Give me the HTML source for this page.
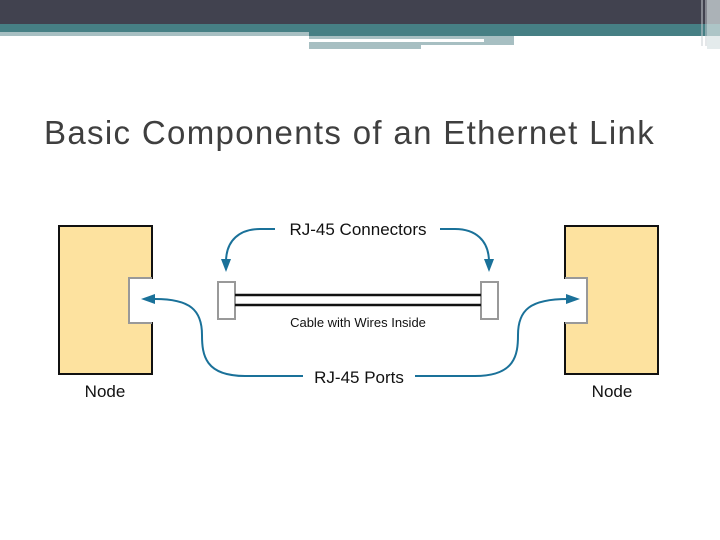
<!DOCTYPE html>
<html><head><meta charset="utf-8"><style>
html,body{margin:0;padding:0;background:#fff;}
body{width:720px;height:540px;overflow:hidden;position:relative;font-family:"Liberation Sans",sans-serif;}
</style></head><body>
<svg width="720" height="540" viewBox="0 0 720 540" xmlns="http://www.w3.org/2000/svg" style="position:absolute;left:0;top:0">
<rect x="0" y="0" width="720" height="24" fill="#41424f"/>
<rect x="0" y="24" width="720" height="8" fill="#467f84"/>
<rect x="0" y="32" width="309" height="4" fill="#a7bfc2"/>
<rect x="309" y="32" width="411" height="4" fill="#467f84"/>
<rect x="309" y="36" width="175" height="3" fill="#a7bfc2"/>
<rect x="309" y="42" width="112" height="7" fill="#a7bfc2"/>
<rect x="421" y="42" width="92" height="3" fill="#a7bfc2"/>
<rect x="484" y="36" width="30" height="9" fill="#a7bfc2"/>
<rect x="707" y="0" width="13" height="49" fill="#d8e2e4" opacity="0.7"/>
<line x1="702" y1="0" x2="702" y2="46" stroke="#c9cfd3" stroke-width="1"/>
<line x1="706" y1="0" x2="706" y2="46" stroke="#c9cfd3" stroke-width="1"/>
<text x="44" y="144" font-family="Liberation Sans, sans-serif" font-size="33" fill="#3f3f3f" letter-spacing="1.33">Basic Components of an Ethernet Link</text>

<g stroke="#111" stroke-width="2" fill="#fde29f">
<path d="M59 226 H152 V278 H129 V323 H152 V374 H59 Z"/>
<path d="M658 226 H565 V278 H587 V323 H565 V374 H658 Z"/>
</g>
<g stroke="#999" stroke-width="2" fill="#fff">
<rect x="129" y="278" width="22" height="45" stroke="none"/>
<path d="M152 278 H129 V323 H152" fill="none"/>
<rect x="566" y="278" width="21" height="45" stroke="none"/>
<path d="M565 278 H587 V323 H565" fill="none"/>
<rect x="218" y="282" width="17" height="37"/>
<rect x="481" y="282" width="17" height="37"/>
</g>
<g stroke="#111" stroke-width="2.5">
<line x1="235" y1="295" x2="481" y2="295"/>
<line x1="235" y1="305" x2="481" y2="305"/>
</g>
<g stroke="#1a7199" stroke-width="2" fill="none">
<path d="M275 229 H260 C240 229 226 240 226 262"/>
<path d="M440 229 H455 C475 229 489 240 489 262"/>
<path d="M303 376 H245 C205 376 202 355 202 335 C202 310 190 299 155 299"/>
<path d="M415 376 H475 C515 376 518 355 518 335 C518 310 530 299 568 299"/>
</g>
<g fill="#1a7199">
<path d="M221 259 L231 259 L226 272 Z"/>
<path d="M484 259 L494 259 L489 272 Z"/>
<path d="M141 299 L155 294 L155 304 Z"/>
<path d="M580 299 L566 294 L566 304 Z"/>
</g>
<g font-family="Liberation Sans, sans-serif" fill="#111">
<text x="358" y="235" font-size="17" text-anchor="middle">RJ-45 Connectors</text>
<text x="358" y="327" font-size="13" text-anchor="middle">Cable with Wires Inside</text>
<text x="359" y="383" font-size="17" text-anchor="middle">RJ-45 Ports</text>
<text x="105" y="397" font-size="17" text-anchor="middle">Node</text>
<text x="612" y="397" font-size="17" text-anchor="middle">Node</text>
</g>
</svg>
</body></html>
